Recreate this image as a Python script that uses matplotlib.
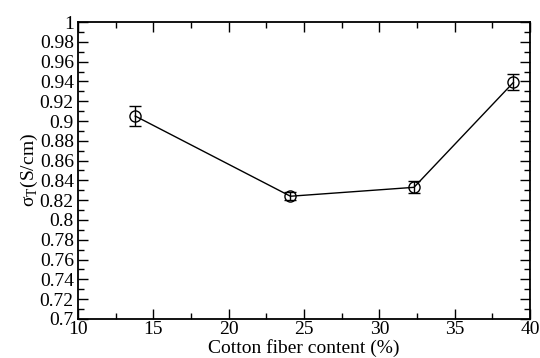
import matplotlib
matplotlib.use("Agg")
import matplotlib.pyplot as plt
from matplotlib.ticker import MultipleLocator

# cotton fiber content (%) and conductivity
cotton = [13.8, 24.1, 32.3, 38.9]
sigma = [0.905, 0.824, 0.833, 0.939]
sigma_err = [0.010, 0.004, 0.006, 0.008]

plt.rcParams['font.family'] = ['Liberation Serif', 'DejaVu Serif']
plt.rcParams['mathtext.fontset'] = 'custom'
plt.rcParams['mathtext.rm'] = 'Liberation Serif'

fig = plt.figure(figsize=(5.4, 3.58), dpi=100)
ax = fig.add_axes([0.1444, 0.109, 0.8371, 0.8295])

ax.errorbar(cotton, sigma, yerr=sigma_err, color='black', lw=1.0,
            marker='o', ms=8, mfc='none', mec='black', mew=1.0,
            capsize=4, elinewidth=1.0, capthick=1.0)

ax.set_xlim(10, 40)
ax.set_ylim(0.7, 1.0)
ax.xaxis.set_major_locator(MultipleLocator(5))
ax.xaxis.set_minor_locator(MultipleLocator(2.5))
ax.yaxis.set_major_locator(MultipleLocator(0.02))
ax.yaxis.set_minor_locator(MultipleLocator(0.01))
ax.set_yticklabels([f"{v:g}" for v in ax.get_yticks()])

ax.tick_params(which='both', direction='in', top=True, right=True,
               labelsize=14)
ax.tick_params(axis='x', pad=1.5)
ax.tick_params(axis='y', pad=3)
ax.tick_params(which='major', length=7, width=1.0)
ax.tick_params(which='minor', length=4, width=1.0)
for s in ax.spines.values():
    s.set_linewidth(1.3)

ax.set_xlabel('Cotton fiber content (%)', fontsize=14, labelpad=0.5)
ax.set_ylabel('σ$_\\mathrm{T}$(S/cm)', fontsize=14, labelpad=0)

fig.savefig('out.png', dpi=100)
